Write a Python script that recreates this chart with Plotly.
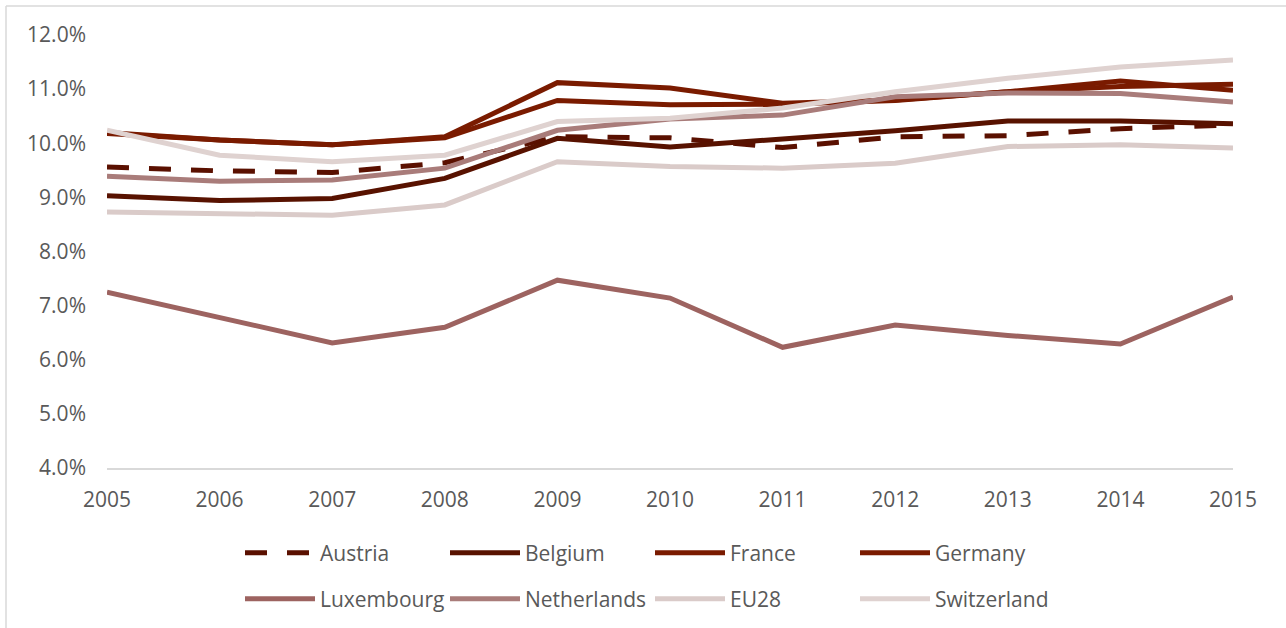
import plotly.graph_objects as go

# Health expenditure, share of GDP (%)
years = [2005, 2006, 2007, 2008, 2009, 2010, 2011, 2012, 2013, 2014, 2015]

austria     = [9.56, 9.49, 9.46, 9.64, 10.12, 10.10, 9.92, 10.12, 10.14, 10.27, 10.34]
belgium     = [9.03, 8.94, 8.98, 9.35, 10.09, 9.93, 10.08, 10.23, 10.41, 10.41, 10.36]
france      = [10.20, 10.06, 9.97, 10.12, 11.12, 11.02, 10.74, 10.80, 10.95, 11.15, 10.98]
germany     = [10.18, 10.06, 9.97, 10.10, 10.79, 10.71, 10.72, 10.79, 10.95, 11.05, 11.09]
luxembourg  = [7.25, 6.77, 6.31, 6.60, 7.47, 7.14, 6.23, 6.64, 6.45, 6.29, 7.16]
netherlands = [9.39, 9.30, 9.32, 9.54, 10.24, 10.45, 10.52, 10.86, 10.93, 10.92, 10.76]
eu28        = [8.73, 8.69, 8.67, 8.86, 9.66, 9.57, 9.54, 9.63, 9.94, 9.97, 9.91]
switzerland = [10.24, 9.78, 9.66, 9.78, 10.40, 10.46, 10.65, 10.95, 11.20, 11.41, 11.54]

y_ticks = [4, 5, 6, 7, 8, 9, 10, 11, 12]
y_tick_labels = [f"{v:.1f}%" for v in y_ticks]

W, H = 1286, 628
L, R, T, B = 107, 53, 35, 160
PW, PH = W - L - R, H - T - B


def px_x(px):
    return (px - L) / PW


def px_y(py):
    return (H - B - py) / PH


FONT = "Open Sans"
TEXT = "#595959"

series = [
    ("Austria", austria, "#5a1000", "22px,20px", "legend"),
    ("Belgium", belgium, "#581200", "solid", "legend"),
    ("France", france, "#7a1b00", "solid", "legend"),
    ("Germany", germany, "#7a1b00", "solid", "legend"),
    ("Luxembourg", luxembourg, "#9d6360", "solid", "legend2"),
    ("Netherlands", netherlands, "#a97c7a", "solid", "legend2"),
    ("EU28", eu28, "#dacbc9", "solid", "legend2"),
    ("Switzerland", switzerland, "#dfd2d0", "solid", "legend2"),
]

fig = go.Figure()
for name, vals, color, dash, leg in series:
    fig.add_trace(go.Scatter(
        x=years, y=vals, name=name, mode="lines",
        line=dict(color=color, width=5, dash=dash),
        legend=leg, hoverinfo="x+y+name",
    ))

legend_common = dict(
    orientation="h", xanchor="left", yanchor="middle",
    font=dict(family=FONT, size=21, color=TEXT),
    itemwidth=70, entrywidth=120, entrywidthmode="pixels",
    bgcolor="rgba(0,0,0,0)", traceorder="normal",
)

fig.update_layout(
    width=W, height=H,
    margin=dict(l=L, r=R, t=T, b=B, autoexpand=False),
    paper_bgcolor="white", plot_bgcolor="white",
    font=dict(family=FONT, size=21, color=TEXT),
    xaxis=dict(
        range=[2005, 2015], tickvals=years, showgrid=False, zeroline=False,
        showline=True, linecolor="#d9d9d9", linewidth=1.5, ticks="",
        ticklabelstandoff=12, tickfont=dict(family=FONT, size=21, color=TEXT),
    ),
    yaxis=dict(
        range=[4, 12], tickvals=y_ticks, ticktext=y_tick_labels,
        showgrid=False, zeroline=False, showline=False, ticks="",
        ticklabelstandoff=20, tickfont=dict(family=FONT, size=21, color=TEXT),
    ),
    legend=dict(x=px_x(240), y=px_y(553), **legend_common),
    legend2=dict(x=px_x(240), y=px_y(599), **legend_common),
    shapes=[
        dict(type="line", xref="paper", yref="paper",
             x0=px_x(6), x1=px_x(6), y0=px_y(6), y1=px_y(H + 5),
             line=dict(color="#d9d9d9", width=1.5)),
        dict(type="line", xref="paper", yref="paper",
             x0=px_x(6), x1=px_x(W + 5), y0=px_y(6), y1=px_y(6),
             line=dict(color="#d9d9d9", width=1.5)),
    ],
)

fig.write_html("out.html")
